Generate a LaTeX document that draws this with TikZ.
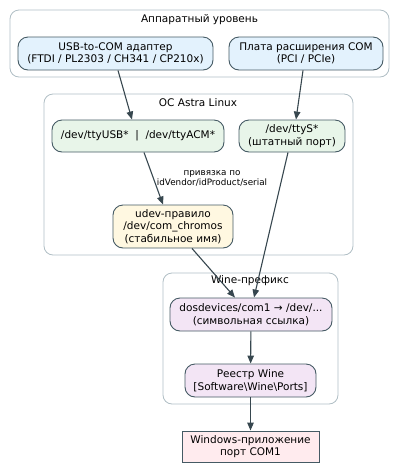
\documentclass[tikz,border=0pt]{standalone}
\usepackage{fontspec}
\setmainfont{DejaVu Sans}
\usepackage{xcolor}
\usetikzlibrary{arrows.meta, positioning, calc}

\definecolor{clusterline}{HTML}{B0BEC5}
\definecolor{nodeline}{HTML}{455A64}
\definecolor{edgeline}{HTML}{37474F}
\definecolor{hwfill}{HTML}{E3F2FD}
\definecolor{osfill}{HTML}{E8F5E9}
\definecolor{udevfill}{HTML}{FFF8E1}
\definecolor{winefill}{HTML}{F3E5F5}
\definecolor{appfill}{HTML}{FFEBEE}

\begin{document}
\begin{tikzpicture}[
    x=1pt, y=-1pt,
    cluster/.style={draw=clusterline, rounded corners=9pt, line width=0.8pt},
    ctitle/.style={inner sep=0pt, font=\fontsize{10.5}{12.5}\selectfont},
    bnode/.style={draw=nodeline, rounded corners=10pt, line width=0.9pt, align=center, inner sep=2pt, font=\fontsize{10.5}{12.5}\selectfont},
    arr/.style={-{Triangle[length=8pt,width=6.5pt]}, line width=1.1pt, draw=edgeline, color=edgeline}
]
\useasboundingbox (0,0) rectangle (400,467);

% clusters
\draw[cluster] (10,10) rectangle (389,77);
\node[ctitle] (hw_title) at (199.5,20) {Аппаратный уровень};
\draw[cluster] (44,94) rectangle (353,255);
\node[ctitle] (os_title) at (198,103) {ОС Astra Linux};
\draw[cluster] (163,273) rectangle (338,404);
\node[ctitle] (wine_title) at (250,281) {Wine-префикс};

% nodes
\node[bnode, fill=hwfill, minimum width=195pt, minimum height=33pt] (usb_adapter) at (115.5,53.5) {USB-to-COM адаптер\\(FTDI / PL2303 / CH341 / CP210x)};
\node[bnode, fill=hwfill, minimum width=154pt, minimum height=33pt] (com_card) at (306,53.5) {Плата расширения COM\\(PCI / PCIe)};
\node[bnode, fill=osfill, minimum width=172pt, minimum height=32pt] (tty_usb) at (138,136) {/dev/ttyUSB*~~|~~/dev/ttyACM*};
\node[bnode, fill=osfill, minimum width=106pt, minimum height=32pt] (tty_s) at (292,136) {/dev/ttyS*\\(штатный порт)};
\node[bnode, fill=udevfill, minimum width=120pt, minimum height=43pt] (udev_rule) at (173,226.5) {udev-правило\\/dev/com\_chromos\\(стабильное имя)};
\node[bnode, fill=winefill, minimum width=162pt, minimum height=33pt] (dos_link) at (251,314.5) {dosdevices/com1 → /dev/...\\(символьная ссылка)};
\node[bnode, fill=winefill, minimum width=131pt, minimum height=33pt] (wine_reg) at (250.5,380.5) {Реестр Wine\\{[}Software\textbackslash Wine\textbackslash Ports{]}};
\node[bnode, fill=appfill, rounded corners=0pt, minimum width=137pt, minimum height=31pt] (win_app) at (250.5,446.5) {Windows-приложение\\порт COM1};

% edges
\draw[arr] ([xshift=2.5pt]usb_adapter.south) -- ([xshift=-6pt]tty_usb.north);
\draw[arr] ([xshift=-3pt]com_card.south) -- ([xshift=4pt]tty_s.north);
\draw[arr] ([xshift=6pt]tty_usb.south) -- ([xshift=-10pt]udev_rule.north);
\node[align=center, inner sep=0pt, font=\fontsize{8.8}{10}\selectfont] (bind_label) at (212,178) {привязка по\\idVendor/idProduct/serial};
\draw[arr] ([xshift=19pt]udev_rule.south) -- ([xshift=-16pt]dos_link.north);
\draw[arr] ([xshift=-4pt]tty_s.south) -- ([xshift=3pt]dos_link.north);
\draw[arr] (dos_link) -- (wine_reg);
\draw[arr] (wine_reg) -- (win_app);

\end{tikzpicture}
\end{document}
